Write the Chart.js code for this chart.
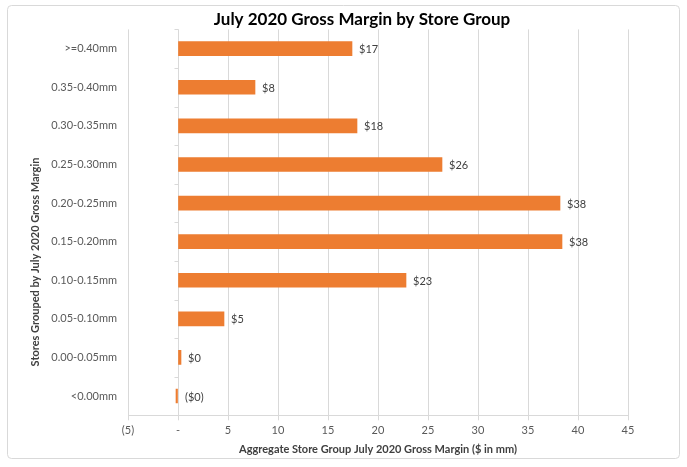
<!DOCTYPE html>
<html>
<head>
<meta charset="utf-8">
<script src="https://cdn.jsdelivr.net/npm/chart.js@4"></script>
<style>
  html, body { margin: 0; padding: 0; background: #ffffff; }
  #wrap { width: 687px; height: 467px; position: relative; }
</style>
</head>
<body>
<div id="wrap"><canvas id="c" width="687" height="467"></canvas></div>
<script>
const categories = [">=0.40mm", "0.35-0.40mm", "0.30-0.35mm", "0.25-0.30mm", "0.20-0.25mm",
                    "0.15-0.20mm", "0.10-0.15mm", "0.05-0.10mm", "0.00-0.05mm", "<0.00mm"];
const grossMargin = [17.4, 7.7, 17.9, 26.4, 38.2, 38.4, 22.8, 4.6, 0.3, -0.2];
const xTickValues = [-5, 0, 5, 10, 15, 20, 25, 30, 35, 40, 45];
const chartTitle = "July 2020 Gross Margin by Store Group";
const xTitle = "Aggregate Store Group July 2020 Gross Margin ($ in mm)";
const yTitle = "Stores Grouped by July 2020 Gross Margin";

const FONT = "Lato";
const GRID = "#d9d9d9";
const TXT = "#595959";

function fmtTick(v) {
  if (v < 0) return "(" + Math.abs(v) + ")";
  if (v === 0) return "-";
  return String(v);
}
function fmtLabel(v) {
  const r = Math.round(Math.abs(v));
  return v < 0 ? "($" + r + ")" : "$" + r;
}

const framePlugin = {
  id: "frame",
  beforeDraw(chart) {
    const ctx = chart.ctx;
    ctx.save();
    ctx.fillStyle = "#ffffff";
    ctx.fillRect(0, 0, chart.width, chart.height);
    ctx.strokeStyle = "#d9d9d9";
    ctx.lineWidth = 1;
    ctx.beginPath();
    if (ctx.roundRect) ctx.roundRect(7.5, 5.5, 672, 453, 4); else ctx.rect(7.5, 5.5, 672, 453);
    ctx.stroke();
    ctx.restore();
  },
  afterDraw(chart) {
    const ctx = chart.ctx;
    const xs = chart.scales.x, ys = chart.scales.y;
    ctx.save();
    // small tick marks on zero line at category boundaries
    const x0 = Math.round(xs.getPixelForValue(0)) + 0.5;
    ctx.strokeStyle = GRID;
    ctx.lineWidth = 1;
    const band = ys.getPixelForValue(1) - ys.getPixelForValue(0);
    for (let i = 0; i <= categories.length; i++) {
      const y = Math.round(ys.getPixelForValue(i) - band / 2) + 0.5;
      ctx.beginPath();
      ctx.moveTo(x0 - 4, y);
      ctx.lineTo(x0, y);
      ctx.stroke();
    }
    // data labels
    ctx.fillStyle = "#404040";
    ctx.font = "11px " + FONT;
    ctx.textAlign = "left";
    ctx.textBaseline = "middle";
    const meta = chart.getDatasetMeta(0);
    meta.data.forEach((bar, i) => {
      const v = grossMargin[i];
      const xEnd = Math.max(xs.getPixelForValue(v), xs.getPixelForValue(0));
      ctx.fillText(fmtLabel(v), xEnd + 7, bar.y + 1);
    });
    // chart title
    ctx.fillStyle = "#000000";
    ctx.font = "bold 17px " + FONT;
    ctx.textAlign = "center";
    ctx.textBaseline = "middle";
    ctx.fillText(chartTitle, 362, 19.5);
    // y axis title
    ctx.fillStyle = "#404040";
    ctx.font = "bold 11px " + FONT;
    ctx.textAlign = "center";
    ctx.textBaseline = "middle";
    ctx.translate(35, 262);
    ctx.rotate(-Math.PI / 2);
    ctx.fillText(yTitle, 0, 0);
    ctx.restore();
  }
};

new Chart(document.getElementById("c"), {
  type: "bar",
  data: {
    labels: categories,
    datasets: [{
      data: grossMargin,
      backgroundColor: "#ED7D31",
      borderWidth: 0,
      barThickness: 14
    }]
  },
  plugins: [framePlugin],
  options: {
    indexAxis: "y",
    responsive: false,
    animation: false,
    devicePixelRatio: 1,
    layout: { padding: { left: 0, right: 59, top: 29.4, bottom: 0 } },
    plugins: {
      legend: { display: false },
      tooltip: { enabled: false },
      title: { display: false }
    },
    scales: {
      x: {
        type: "linear",
        min: -5,
        max: 45,
        afterBuildTicks(scale) { scale.ticks = xTickValues.map(v => ({ value: v })); },
        afterFit(scale) { scale.height = 51.7; },
        grid: { color: GRID, tickLength: 5, tickColor: GRID },
        border: { display: true, color: GRID },
        ticks: {
          color: TXT,
          font: { family: FONT, size: 11 },
          padding: 4,
          callback: (v) => fmtTick(v)
        },
        title: {
          display: true,
          text: xTitle,
          color: "#404040",
          font: { family: FONT, size: 11, weight: "bold" },
          padding: { top: 0, bottom: 11 }
        }
      },
      y: {
        type: "category",
        afterFit(scale) { scale.width = 128; },
        grid: { display: false, drawTicks: false },
        border: { display: false },
        ticks: {
          color: TXT,
          font: { family: FONT, size: 11 },
          padding: 11
        }
      }
    }
  }
});
</script>
</body>
</html>
